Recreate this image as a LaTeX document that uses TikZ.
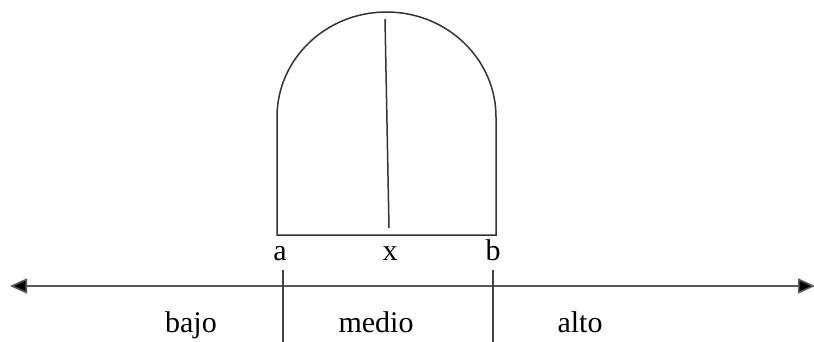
\documentclass[tikz,border=0pt]{standalone}
\usepackage{fontspec}
\setmainfont{Liberation Serif}
\usetikzlibrary{arrows.meta}
\begin{document}
\begin{tikzpicture}[x=1pt,y=-1pt,
  shapeline/.style={line width=1.5pt,draw=black!80},
  axisline/.style={line width=1.6pt,draw=black!65},
  tickline/.style={line width=1.5pt,draw=black!75},
  tip/.style={Triangle[length=17pt,width=15pt,fill=black]},
  lbl/.style={anchor=base,inner sep=0pt,font=\fontsize{30}{32}\selectfont}]
\useasboundingbox (0,0) rectangle (814,342);
% shape
\coordinate (BL) at (277,235);
\coordinate (BR) at (496,235);
\coordinate (TL) at (277,117);
\coordinate (TR) at (496,117);
\draw[shapeline] (TL) -- (BL) -- (BR) -- (TR)
  arc[start angle=0,end angle=180,x radius=109.5,y radius=-105];
\coordinate (XT) at (385,19);
\coordinate (XB) at (389,228);
\draw[shapeline] (XT) -- (XB);
% labels
\node[lbl] (a) at (280,260) {a};
\node[lbl] (x) at (390,260) {x};
\node[lbl] (b) at (493,260) {b};
% axis
\coordinate (L) at (10,286);
\coordinate (R) at (815,286);
\draw[axisline,{Triangle[length=17pt,width=15pt,fill=black]}-{Triangle[length=17pt,width=15pt,fill=black]}] (L) -- (R);
\coordinate (t1a) at (283,270);
\coordinate (t1b) at (283,342);
\coordinate (t2a) at (493,270);
\coordinate (t2b) at (493,342);
\draw[tickline] (t1a) -- (t1b);
\draw[tickline] (t2a) -- (t2b);
\node[lbl] (bajo) at (191,332) {bajo};
\node[lbl] (medio) at (376,332) {medio};
\node[lbl] (alto) at (580,332) {alto};
\end{tikzpicture}
\end{document}
